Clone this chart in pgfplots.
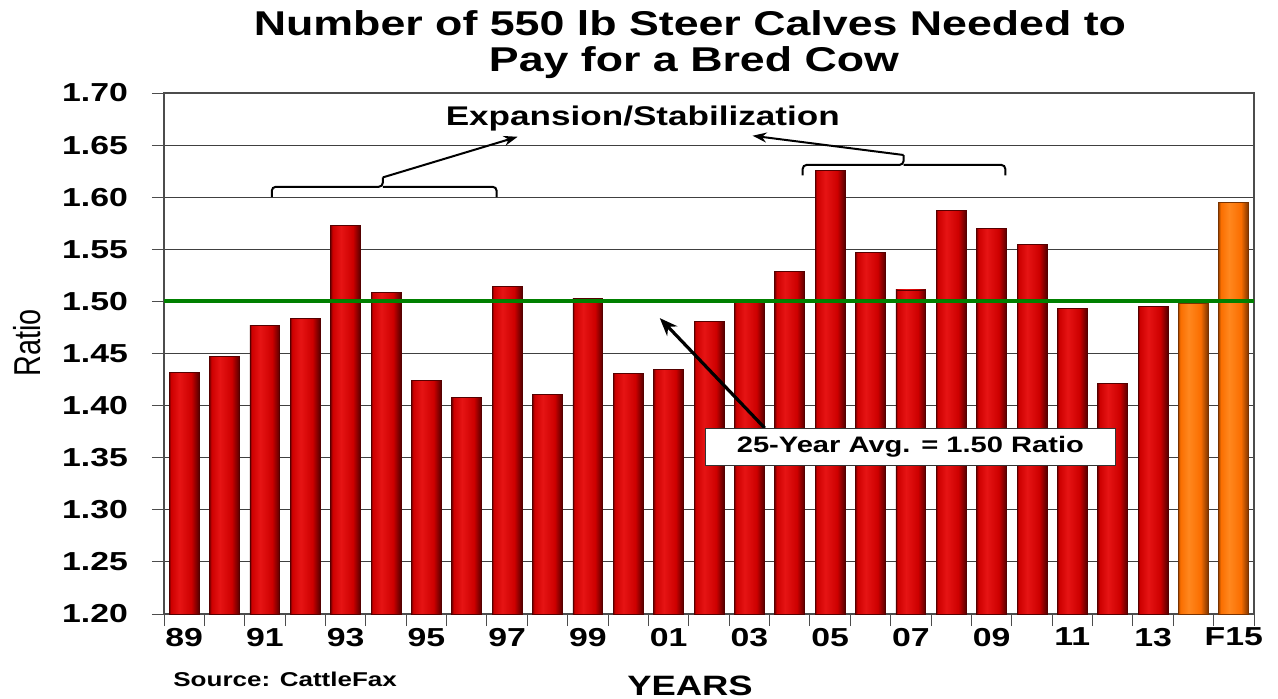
\documentclass[border=0pt]{standalone}
\usepackage{pgfplots}
\pgfplotsset{compat=1.18}
\usepackage{fontspec}
\setmainfont{Liberation Sans}[FakeStretch=1.3]
\newfontfamily\plainfont{Liberation Sans}
\usetikzlibrary{arrows.meta}

\definecolor{bardarkL}{RGB}{120,0,0}
\definecolor{barred}{RGB}{205,0,0}
\definecolor{barlight}{RGB}{230,20,20}
\definecolor{bardarkR}{RGB}{85,0,0}
\definecolor{orangedarkL}{RGB}{170,75,0}
\definecolor{barorange}{RGB}{250,110,0}
\definecolor{orangelight}{RGB}{255,135,30}
\definecolor{orangedarkR}{RGB}{120,50,0}
\definecolor{avggreen}{RGB}{0,128,0}

\pgfdeclarehorizontalshading{redbarshade}{100bp}{color(0bp)=(bardarkL); color(25bp)=(bardarkL); color(28bp)=(barred); color(42bp)=(barlight); color(62bp)=(barred); color(75bp)=(bardarkR); color(100bp)=(bardarkR)}
\pgfdeclarehorizontalshading{orangebarshade}{100bp}{color(0bp)=(orangedarkL); color(25bp)=(orangedarkL); color(28bp)=(barorange); color(42bp)=(orangelight); color(62bp)=(barorange); color(75bp)=(orangedarkR); color(100bp)=(orangedarkR)}

\pgfplotsset{
  redbar/.style={shade, shading=redbarshade, draw=bardarkR, line width=0.4pt},
  orangebar/.style={shade, shading=orangebarshade, draw=orangedarkR, line width=0.4pt},
}

\begin{document}
\begin{tikzpicture}[x=1pt,y=1pt]
\path[use as bounding box] (0,0) rectangle (639,349);
\begin{axis}[
  at={(82pt,42pt)}, anchor=south west,
  scale only axis, width=545pt, height=260.5pt,
  xmin=-0.5, xmax=26.5, ymin=1.2, ymax=1.7,
  ybar, bar width=0.74, bar shift=0pt,
  ytick={1.20,1.25,1.30,1.35,1.40,1.45,1.50,1.55,1.60,1.65,1.70},
  yticklabels={1.20,1.25,1.30,1.35,1.40,1.45,1.50,1.55,1.60,1.65,1.70},
  yticklabel style={xshift=-8.5pt},
  ymajorgrids,
  major grid style={draw=black!75, line width=0.5pt},
  xtick={-0.5,0.5,...,26.5},
  xticklabels={},
  extra x ticks={0,2,...,26},
  extra x tick labels={89,91,93,95,97,99,01,03,05,07,09,11,13,F15},
  extra x tick style={major tick length=0pt, grid=none, xticklabel style={yshift=-3.5pt}},
  tick align=outside, major tick length=6pt,
  tick pos=left,
  tick style={black!70, line width=0.5pt},
  axis line style={black!70, line width=0.6pt},
  ticklabel style={font=\fontsize{13}{13}\selectfont\bfseries},
  clip mode=individual,
]
% red bars: 1989 .. 2013
\addplot[redbar] coordinates {(0,1.432)};
\addplot[redbar] coordinates {(1,1.447)};
\addplot[redbar] coordinates {(2,1.477)};
\addplot[redbar] coordinates {(3,1.484)};
\addplot[redbar] coordinates {(4,1.573)};
\addplot[redbar] coordinates {(5,1.509)};
\addplot[redbar] coordinates {(6,1.424)};
\addplot[redbar] coordinates {(7,1.408)};
\addplot[redbar] coordinates {(8,1.514)};
\addplot[redbar] coordinates {(9,1.411)};
\addplot[redbar] coordinates {(10,1.503)};
\addplot[redbar] coordinates {(11,1.431)};
\addplot[redbar] coordinates {(12,1.435)};
\addplot[redbar] coordinates {(13,1.481)};
\addplot[redbar] coordinates {(14,1.499)};
\addplot[redbar] coordinates {(15,1.529)};
\addplot[redbar] coordinates {(16,1.626)};
\addplot[redbar] coordinates {(17,1.547)};
\addplot[redbar] coordinates {(18,1.511)};
\addplot[redbar] coordinates {(19,1.587)};
\addplot[redbar] coordinates {(20,1.570)};
\addplot[redbar] coordinates {(21,1.555)};
\addplot[redbar] coordinates {(22,1.493)};
\addplot[redbar] coordinates {(23,1.421)};
\addplot[redbar] coordinates {(24,1.495)};
% orange bars: 2014, F2015
\addplot[orangebar] coordinates {(25,1.498)};
\addplot[orangebar] coordinates {(26,1.595)};
% 25-year average
\addplot[sharp plot, avggreen, line width=2pt, forget plot] coordinates {(-0.5,1.5) (26.5,1.5)};

% brackets and arrows
\draw[line width=1pt, rounded corners=2pt] (axis cs:2.17,1.600) |- (axis cs:4.92,1.610) -- (axis cs:4.92,1.619);
\draw[line width=1pt, rounded corners=2pt] (axis cs:4.92,1.610) -| (axis cs:7.74,1.600);
\draw[-{Stealth[length=7pt,width=5pt]}, line width=1pt] (axis cs:4.92,1.619) -- (axis cs:8.26,1.658);
\draw[line width=1pt, rounded corners=2pt] (axis cs:15.32,1.621) |- (axis cs:17.82,1.631) -- (axis cs:17.82,1.6405);
\draw[line width=1pt, rounded corners=2pt] (axis cs:17.82,1.631) -| (axis cs:20.34,1.621);
\draw[-{Stealth[length=7pt,width=5pt]}, line width=1pt] (axis cs:17.82,1.6405) -- (axis cs:14.08,1.659);
\node[anchor=base, font=\fontsize{13.5}{13.5}\selectfont\bfseries, inner sep=0pt] at (axis cs:11.36,1.669) {Expansion/Stabilization};

% average annotation
\draw[-{Stealth[length=9pt,width=7pt]}, line width=1.6pt] (axis cs:14.38,1.3785) -- (axis cs:11.78,1.484);
\node[draw=black!80, fill=white, line width=0.5pt, minimum width=205pt, minimum height=18.5pt, inner sep=0pt,
      font=\fontsize{11.2}{11.2}\selectfont\bfseries] at (axis cs:17.99,1.3603) {25-Year Avg. = 1.50 Ratio};
\end{axis}

% titles and labels
\node[anchor=base, inner sep=0pt, font=\fontsize{17.2}{17.2}\selectfont\bfseries] at (345,331) {Number of 550 lb Steer Calves Needed to};
\node[anchor=base, inner sep=0pt, font=\fontsize{17.2}{17.2}\selectfont\bfseries] at (347,313) {Pay for a Bred Cow};
\node[anchor=base west, inner sep=0pt, font=\fontsize{10}{10}\selectfont\bfseries] at (86.5,6) {Source: CattleFax};
\node[anchor=base, inner sep=0pt, font=\fontsize{14}{14}\selectfont\bfseries] at (345,1.5) {YEARS};
\node[rotate=90, inner sep=0pt] at (13.75,177.5) {\scalebox{1}[1.3]{\plainfont\fontsize{14.4}{14.4}\selectfont Ratio}};
\end{tikzpicture}
\end{document}
